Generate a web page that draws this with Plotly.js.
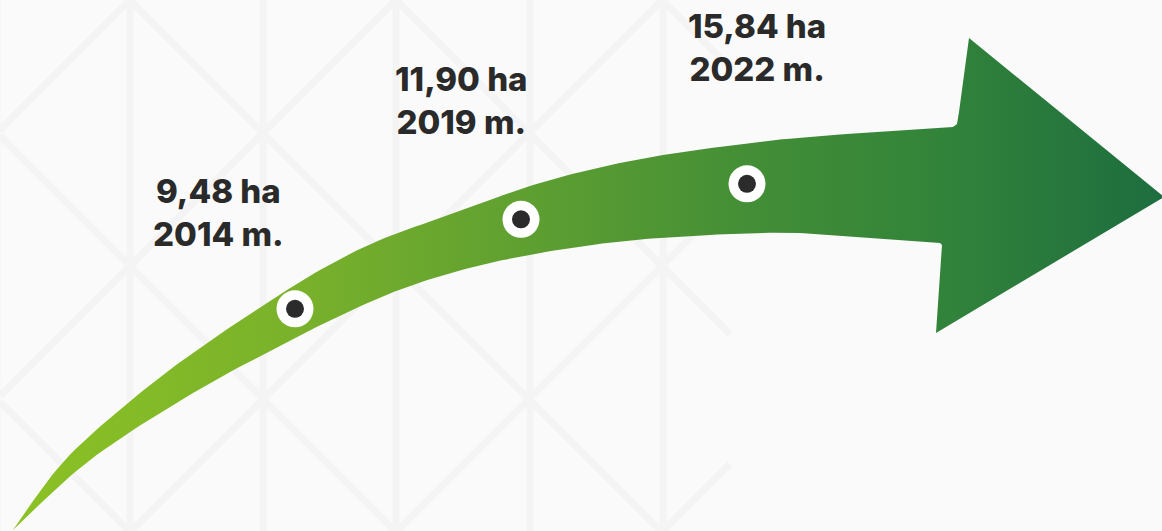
<!DOCTYPE html>
<html>
<head>
<meta charset="utf-8">
<script src="https://cdn.plot.ly/plotly-3.0.1.min.js"></script>
<style>
  html, body { margin: 0; padding: 0; background: #fafafa; }
  #chart { width: 1162px; height: 531px; }
</style>
</head>
<body>
<div id="chart"></div>
<script>
// ---------------- DATA ----------------
const years = ['2014', '2019', '2022'];
const areaHa = [9.48, 11.90, 15.84];
const unitLabel = 'ha';
const yearSuffix = 'm.';

// ---------------- GEOMETRY / STYLE (decoration, pixel space) ----------------
const W = 1162, H = 531;
const CAT_X0 = 295, CAT_DX = 226;           // pixel position of first category and spacing
const upperEdge = [[13,530],[65,460],[140,393],[207,343],[267,303],[320,270],[380,240],[463,210],
                   [530,186],[597,168],[663,155],[750,143],[820,136],[953,127]];
const lowerEdge = [[13,530],[90,460],[193,393],[295,338],[350,311],[407,287],[473,267],[540,253],
                   [607,243],[673,237],[760,233],[820,234],[940,243]];
const headPts = [[957,124],[959,112],[969,38],[1164,197],[936,333],[941,252],[942,245]];
const labelShift = [[-77, 96], [-60, 119], [10, 136]];
const markerFrac = 0.45;

function catmull(pts, steps) {
  const out = [];
  const n = pts.length;
  for (let i = 0; i < n - 1; i++) {
    const p0 = pts[Math.max(i - 1, 0)], p1 = pts[i], p2 = pts[i + 1], p3 = pts[Math.min(i + 2, n - 1)];
    for (let s = 0; s < steps; s++) {
      const t = s / steps, t2 = t * t, t3 = t2 * t;
      const f = (a, b, c, d) => 0.5 * ((2 * b) + (-a + c) * t + (2 * a - 5 * b + 4 * c - d) * t2 + (-a + 3 * b - 3 * c + d) * t3);
      out.push([f(p0[0], p1[0], p2[0], p3[0]), f(p0[1], p1[1], p2[1], p3[1])]);
    }
  }
  out.push(pts[n - 1]);
  return out;
}
const up = catmull(upperEdge, 14);
const lo = catmull(lowerEdge, 14);
function interpY(curve, x) {
  for (let i = 0; i < curve.length - 1; i++) {
    const a = curve[i], b = curve[i + 1];
    if ((x >= a[0] && x <= b[0])) {
      const t = (x - a[0]) / (b[0] - a[0] || 1);
      return a[1] + t * (b[1] - a[1]);
    }
  }
  return curve[curve.length - 1][1];
}

const poly = up.concat(headPts).concat(lo.slice().reverse());
const arrowX = poly.map(p => p[0]);
const arrowY = poly.map(p => p[1]);

// marker y: along the arrow body at the category's pixel position
const catPx = years.map((y, i) => CAT_X0 + CAT_DX * i);
const markerY = catPx.map(px => {
  const u = interpY(up, px), l = interpY(lo, px);
  return u + markerFrac * (l - u);
});

const labels = areaHa.map((v, i) => v.toFixed(2).replace('.', ',') + ' ' + unitLabel + '<br>' + years[i] + ' ' + yearSuffix);

// background leaf lattice (faint)
const shapes = [];
const patColor = '#f4f4f4';
const stems = [-3, 130, 263, 396, 530, 663];
stems.forEach(sx => {
  shapes.push({type: 'line', xref: 'x', yref: 'y', x0: sx, x1: sx, y0: 0, y1: H, layer: 'below',
               line: {color: patColor, width: 7}});
});
const XMAX = 730;
for (let a = 130 - 266 * 3; a < 2000; a += 266) {
  const x1 = Math.max(0, a - H), x2 = Math.min(XMAX, a);
  if (x2 > x1) shapes.push({type: 'line', xref: 'x', yref: 'y', x0: x1, y0: a - x1, x1: x2, y1: a - x2, layer: 'below',
                            line: {color: patColor, width: 7}});
}
for (let b = 130 - 266 * 4; b < 1200; b += 266) {
  const x1 = Math.max(0, b), x2 = Math.min(XMAX, H + b);
  if (x2 > x1) shapes.push({type: 'line', xref: 'x', yref: 'y', x0: x1, y0: x1 - b, x1: x2, y1: x2 - b, layer: 'below',
                            line: {color: patColor, width: 7}});
}

const traces = [
  {
    type: 'scatter', mode: 'lines', x: arrowX, y: arrowY, xaxis: 'x', yaxis: 'y',
    fill: 'toself', line: {width: 0, color: 'rgba(0,0,0,0)'},
    fillcolor: '#5a9e31',
    fillgradient: {type: 'horizontal', colorscale: [
      [0, '#8cc224'], [0.25, '#79b12b'], [0.45, '#5e9f31'], [0.64, '#438e36'],
      [0.8, '#33843a'], [1, '#1d6d3f']]},
    hoverinfo: 'skip', showlegend: false
  },
  {
    type: 'scatter', mode: 'markers', x: years, y: markerY, xaxis: 'x2', yaxis: 'y',
    marker: {size: 37, color: '#ffffff', line: {width: 0}}, hoverinfo: 'skip', showlegend: false
  },
  {
    type: 'scatter', mode: 'markers', x: years, y: markerY, xaxis: 'x2', yaxis: 'y',
    marker: {size: 18, color: '#2b2b2b', line: {width: 0}}, hoverinfo: 'skip', showlegend: false
  }
];

const annotations = labels.map((t, i) => ({
  text: t, xref: 'x', yref: 'y', x: catPx[i], y: markerY[i] - labelShift[i][1],
  xshift: labelShift[i][0],
  showarrow: false, xanchor: 'center', yanchor: 'middle', align: 'center',
  font: {family: 'Inter, "Open Sans", sans-serif', size: 33, weight: 800, color: '#2a2a2a'}
}));

const layout = {
  width: W, height: H,
  margin: {l: 0, r: 0, t: 0, b: 0, pad: 0},
  paper_bgcolor: '#fafafa', plot_bgcolor: '#fafafa',
  showlegend: false,
  xaxis: {range: [0, W], visible: false, fixedrange: true},
  xaxis2: {type: 'category', categoryarray: years, categoryorder: 'array', overlaying: 'x', anchor: 'y',
           range: [-CAT_X0 / CAT_DX, (W - CAT_X0) / CAT_DX], visible: false, fixedrange: true},
  yaxis: {range: [H, 0], visible: false, fixedrange: true},
  shapes: shapes,
  annotations: annotations
};

Plotly.newPlot('chart', traces, layout, {displayModeBar: false, staticPlot: true});
</script>
</body>
</html>
